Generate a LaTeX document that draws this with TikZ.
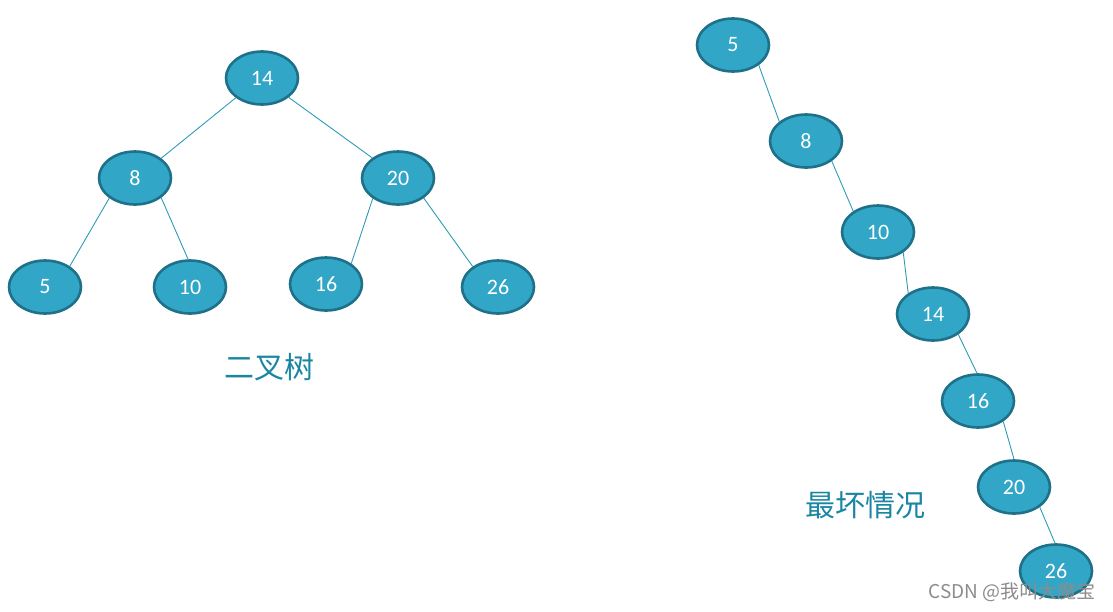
\documentclass[tikz,border=0pt]{standalone}
\usepackage{fontspec}
\setmainfont{Carlito}
\newfontfamily\cjk{Noto Sans CJK SC}
\definecolor{nfill}{HTML}{31A6C6}
\definecolor{nline}{HTML}{1E7189}
\definecolor{elink}{HTML}{2E9AB6}
\definecolor{ltxt}{HTML}{1B86A3}
\definecolor{wmark}{HTML}{8C8C8C}
\usetikzlibrary{shapes.geometric}
\tikzset{
  nd/.style={ellipse,draw=nline,fill=nfill,line width=2.6pt,minimum width=72pt,minimum height=53pt,inner sep=0pt,text=white,font=\fontsize{22}{22}\selectfont},
  lnk/.style={draw=elink,line width=0.9pt},
  lab/.style={text=ltxt,font=\cjk\fontsize{30}{30}\selectfont},
}
\begin{document}
\begin{tikzpicture}[x=1pt,y=-1pt]
\useasboundingbox (0,0) rectangle (1113,611);
% balanced tree
\node[nd] (a14) at (262,78) {14};
\node[nd] (a8) at (135,178) {8};
\node[nd] (a20) at (398,178) {20};
\node[nd] (a5) at (45,287) {5};
\node[nd] (a10) at (190,287) {10};
\node[nd] (a16) at (326,284) {16};
\node[nd] (a26) at (498,287) {26};
\draw[lnk] (a14.217)--(a8.37); \draw[lnk] (a14.-36)--(a20.142);
\draw[lnk] (a8.218)--(a5.40); \draw[lnk] (a8.-37)--(a10.94);
\draw[lnk] (a20.219)--(a16.39); \draw[lnk] (a20.-38)--(a26.141);
\node[lab] (tl) at (269,367) {二叉树};
% degenerate chain
\node[nd] (b5) at (733,45) {5};
\node[nd] (b8) at (806,141) {8};
\node[nd] (b10) at (878,232) {10};
\node[nd] (b14) at (933,314) {14};
\node[nd] (b16) at (978,401) {16};
\node[nd] (b20) at (1014,487) {20};
\node[nd] (b26) at (1056,571) {26};
\draw[lnk] (b5.-38)--(b8.144); \draw[lnk] (b8.-38)--(b10.140);
\draw[lnk] (b10.-39)--(b14.140); \draw[lnk] (b14.-39)--(b16.92);
\draw[lnk] (b16.-39)--(b20.90); \draw[lnk] (b20.-38)--(b26.92);
\node[lab] (tr) at (865,505) {最坏情况};
\node[text=wmark,font=\cjk\fontsize{19}{19}\selectfont] (wm) at (1012,592) {CSDN @我叫大魔宝};
\end{tikzpicture}
\end{document}
